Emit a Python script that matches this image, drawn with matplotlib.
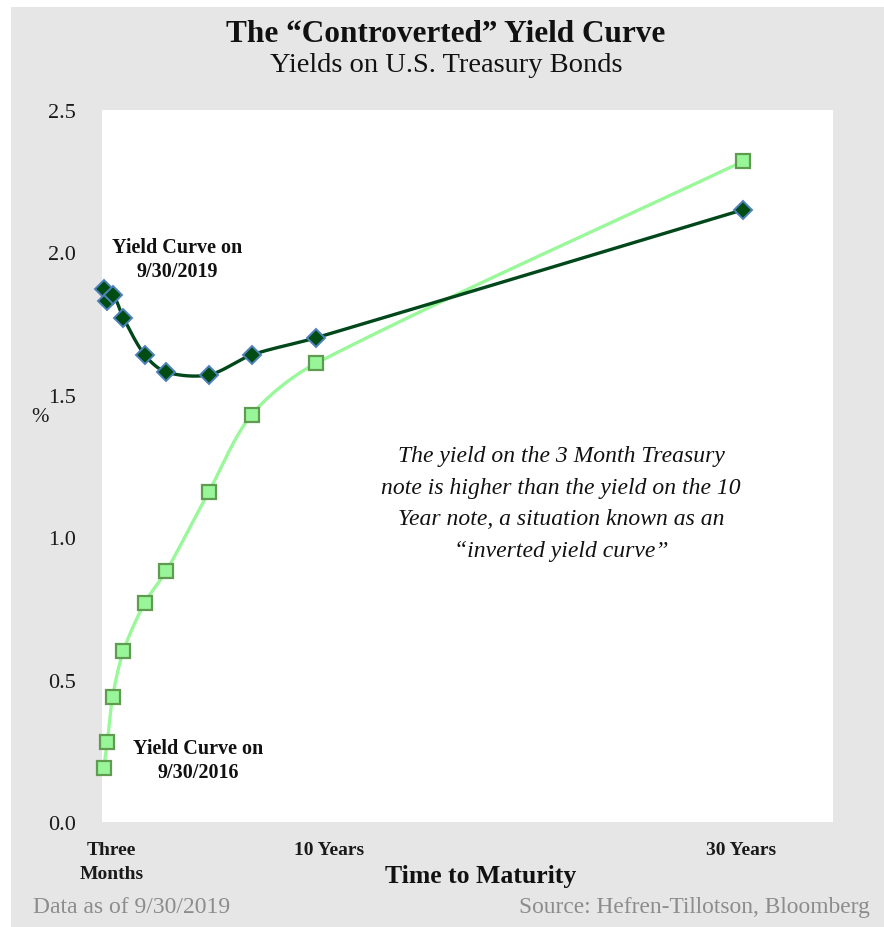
import numpy as np
import matplotlib
matplotlib.use("Agg")
import matplotlib.pyplot as plt
from matplotlib.patches import Rectangle

# Maturities in years: 1M, 3M, 6M, 1Y, 2Y, 3Y, 5Y, 7Y, 10Y, 30Y
maturity_years = [1 / 12, 0.25, 0.5, 1, 2, 3, 5, 7, 10, 30]
yields_2019 = [1.87, 1.83, 1.85, 1.77, 1.64, 1.58, 1.57, 1.64, 1.70, 2.15]
yields_2016 = [0.19, 0.28, 0.44, 0.60, 0.77, 0.88, 1.16, 1.43, 1.61, 2.32]

tick_positions = [0.45, 10.6, 29.9]
tick_labels = ["Three\nMonths", "10 Years", "30 Years"]
y_ticks = [0.0, 0.5, 1.0, 1.5, 2.0, 2.5]

W, H = 884, 928
XMAX, YMAX = 34.2, 2.5

SERIF = ["Liberation Serif", "DejaVu Serif"]
plt.rcParams["font.family"] = SERIF


def smooth(xs, ys, sx, sy, k=0.3, n=40):
    """Bezier smoothing in screen space; tangent handles scaled by chord length."""
    pts = np.column_stack([np.asarray(xs, float) * sx, np.asarray(ys, float) * sy])
    m = len(pts)
    tangents = []
    for i in range(m):
        a = pts[i - 1] if i > 0 else pts[i]
        b = pts[i + 1] if i + 1 < m else pts[i]
        d = b - a
        tangents.append(d / (np.hypot(*d) or 1.0))
    out = [pts[0]]
    t = np.linspace(0, 1, n)[1:, None]
    for i in range(m - 1):
        p1, p2 = pts[i], pts[i + 1]
        L = np.hypot(*(p2 - p1))
        c1 = p1 + tangents[i] * L * k
        c2 = p2 - tangents[i + 1] * L * k
        seg = ((1 - t) ** 3) * p1 + 3 * ((1 - t) ** 2) * t * c1 \
            + 3 * (1 - t) * t ** 2 * c2 + t ** 3 * p2
        out.extend(seg)
    out = np.array(out)
    return out[:, 0] / sx, out[:, 1] / sy


fig = plt.figure(figsize=(W / 100, H / 100), dpi=100)
fig.patch.set_facecolor("white")
fig.patches.append(Rectangle((11 / W, 0), 1 - 11 / W, 1 - 8 / H,
                             transform=fig.transFigure, facecolor="#e6e6e6",
                             edgecolor="none", zorder=-10))

left, right, top, bottom = 102, 833, 111, 823
ax = fig.add_axes([left / W, (H - bottom) / H, (right - left) / W, (bottom - top) / H])
ax.set_facecolor("white")
ax.set_xlim(0, XMAX)
ax.set_ylim(0, YMAX)
for s in ax.spines.values():
    s.set_visible(False)

sx = (right - left) / XMAX
sy = (bottom - top) / YMAX

# 2016 curve
x16, y16 = smooth(maturity_years, yields_2016, sx, sy)
ax.plot(x16, y16, color="#99f899", lw=2.4, zorder=2, solid_capstyle="round")
ax.plot(maturity_years, yields_2016, ls="none", marker="s", markersize=10.5,
        markerfacecolor="#98f598", markeredgecolor="#609c50", markeredgewidth=1.6,
        zorder=3, clip_on=False)

# 2019 curve
x19, y19 = smooth(maturity_years, yields_2019, sx, sy)
ax.plot(x19, y19, color="#00471a", lw=2.4, zorder=4, solid_capstyle="round")
ax.plot(maturity_years, yields_2019, ls="none", marker="D", markersize=9,
        markerfacecolor="#004d13", markeredgecolor="#4f81bd", markeredgewidth=1.4,
        zorder=5, clip_on=False)

ax.set_yticks(y_ticks)
ax.set_yticklabels([f"{v:.1f}" for v in y_ticks], fontsize=16, color="#1a1a1a")
ax.set_xticks(tick_positions)
ax.set_xticklabels(tick_labels, fontsize=14, fontweight="bold", color="#1a1a1a",
                   linespacing=1.5, va="top")
ax.tick_params(axis="y", length=0, pad=19)
ax.tick_params(axis="x", length=0, pad=14)


def fx(px):
    return px / W


def fy(py):
    return 1 - py / H


fig.text(fx(446), fy(34), "The \u201cControverted\u201d Yield Curve", ha="center",
         va="center", fontsize=22.5, fontweight="bold", color="#111111")
fig.text(fx(446), fy(66), "Yields on U.S. Treasury Bonds", ha="center",
         va="center", fontsize=20.5, color="#111111")

fig.text(fx(40), fy(418), "%", ha="center", va="center", fontsize=15, color="#1a1a1a")
fig.text(fx(481), fy(877), "Time to Maturity", ha="center", va="center",
         fontsize=18.5, fontweight="bold", color="#111111")

fig.text(fx(33), fy(908), "Data as of 9/30/2019", ha="left", va="center",
         fontsize=17, color="#8c8c8c")
fig.text(fx(870), fy(908), "Source: Hefren-Tillotson, Bloomberg", ha="right",
         va="center", fontsize=16.8, color="#8c8c8c")

fig.text(fx(177), fy(260), "Yield Curve on\n9/30/2019", ha="center", va="center",
         fontsize=14.5, fontweight="bold", color="#111111", linespacing=1.3)
fig.text(fx(198), fy(761), "Yield Curve on\n9/30/2016", ha="center", va="center",
         fontsize=14.5, fontweight="bold", color="#111111", linespacing=1.3)

fig.text(fx(561), fy(504),
         "The yield on the 3 Month Treasury\nnote is higher than the yield on the 10\n"
         "Year note, a situation known as an\n\u201cinverted yield curve\u201d",
         ha="center", va="center", fontsize=17, style="italic", color="#111111",
         linespacing=1.67)

fig.savefig("out.png", dpi=100)
